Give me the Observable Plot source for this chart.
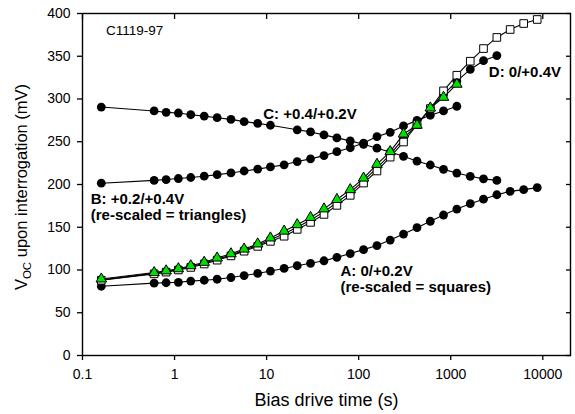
<!DOCTYPE html>
<html><head><meta charset="utf-8">
<script src="https://cdn.jsdelivr.net/npm/d3@7"></script>
<script src="https://cdn.jsdelivr.net/npm/@observablehq/plot@0.6"></script>
<style>body{margin:0;background:#fff}</style>
</head><body><div id="chart"></div>
<script>
// Bias drive time (s)
const times = [0.16, 0.6, 0.81, 1.1, 1.5, 2.1, 2.9, 4.1, 5.7, 8, 11, 15.5, 21.5, 30, 42, 58, 81, 113, 158, 220, 307, 430, 600, 835, 1165, 1630, 2270, 3170, 4420, 6200, 8700];
// Voc (mV)
const seriesA = [81, 84.6, 85.1, 85.6, 87, 88, 89.2, 91.2, 93.5, 96, 98.8, 101.8, 105, 107.8, 110.8, 114.8, 119.2, 123.8, 128.6, 135, 142, 149.5, 157, 164.3, 171.3, 177.6, 182.8, 188, 192, 194, 196.3];
const seriesB = [201.5, 204.8, 205.8, 207, 208.2, 209.7, 211.5, 213.5, 215.8, 218, 220.5, 223, 226.8, 230, 233.8, 238.4, 243, 248.5, 256, 261, 268.5, 275, 281, 286, 291.5];
const seriesC = [290.6, 286, 284.4, 283.6, 281.6, 280, 278.1, 276.2, 273.5, 271.5, 269.3, null, 264, 261.5, 258, 254.5, 251, 247, 242.5, 238, 233, 227.3, 222.8, 217.7, 213.4, 209.6, 206.6, 204.8];
const seriesD = [88.5, 96, 98, 100.5, 104, 108, 112.5, 117.5, 123, 129, 135.5, 142.5, 150, 158.5, 168, 179, 190.5, 204.5, 219.5, 235, 254, 270, 289, 305, 321, 334.6, 344.8, 350.8];
const rescaledA = [88, 95.5, 97.5, 100, 103, 107, 111.5, 116.5, 122, 127.6, 133.5, 139.5, 147.5, 155.7, 165, 175.6, 187.3, 201.7, 215.8, 232, 249.7, 270, 288.8, 309.5, 327.8, 344.2, 359, 372, 381.3, 388.3, 393];
const rescaledB = [89.5, 97, 99, 101.5, 105, 109, 114, 119, 124.5, 130.5, 137.5, 145.5, 153, 161.5, 171.5, 182.5, 194, 207.5, 223.6, 238.5, 259, 269.3, 289.5, 302, 317.3];

const xTicks = [0.1, 1, 10, 100, 1000, 10000];
const yTicks = [0, 50, 100, 150, 200, 250, 300, 350, 400];

const sampleLabel = [{t: 0.18, v: 375, text: "C1119-97"}];
const seriesLabels = [
  {t: 9.2, v: 277.1, text: "C: +0.4/+0.2V"},
  {t: 2595, v: 325.8, text: "D: 0/+0.4V"},
  {t: 0.123, v: 177.6, text: "B: +0.2/+0.4V"},
  {t: 0.123, v: 158.9, text: "(re-scaled = triangles)"},
  {t: 63.5, v: 92.5, text: "A: 0/+0.2V"},
  {t: 63.5, v: 73.8, text: "(re-scaled = squares)"}
];
const xTitle = "Bias drive time (s)";

const rows = vals => vals.map((v, i) => ({t: times[i], v})).filter(d => d.v != null);
const A = rows(seriesA), B = rows(seriesB), C = rows(seriesC), D = rows(seriesD);
const SQ = rows(rescaledA), TR = rows(rescaledB);

const lineOpts = {x: "t", y: "v", stroke: "black", strokeWidth: 1.1};
const dotOpts = {x: "t", y: "v", r: 4.4, fill: "black"};

const chart = Plot.plot({
  width: 575, height: 414,
  marginLeft: 82, marginRight: 5, marginTop: 13, marginBottom: 59,
  x: {type: "log", domain: [0.1, 20000]},
  y: {domain: [0, 400]},
  style: {fontFamily: "Arial, 'Liberation Sans', sans-serif", fontSize: "14px", color: "black", background: "white"},
  marks: [
    Plot.axisX(xTicks, {anchor: "bottom", tickSize: 5, tickPadding: 9, tickFormat: d => String(d), label: null, strokeWidth: 1.3}),
    Plot.axisX(xTicks, {anchor: "top", tickSize: -5, tickFormat: () => "", label: null, strokeWidth: 1.3}),
    Plot.axisY(yTicks, {anchor: "left", tickSize: 5, tickPadding: 7, label: null, strokeWidth: 1.3}),
    Plot.axisY(yTicks, {anchor: "right", tickSize: -5, tickFormat: () => "", label: null, strokeWidth: 1.3}),
    Plot.frame({stroke: "black", strokeWidth: 1.4}),
    Plot.line(A, lineOpts), Plot.dot(A, dotOpts),
    Plot.line(C, lineOpts), Plot.dot(C, dotOpts),
    Plot.line(B, lineOpts), Plot.dot(B, dotOpts),
    Plot.line(D, lineOpts), Plot.dot(D, dotOpts),
    Plot.line(SQ, lineOpts),
    Plot.dot(SQ, {x: "t", y: "v", symbol: "square", r: 4.3, fill: "white", stroke: "black", strokeWidth: 1}),
    Plot.line(TR, lineOpts),
    Plot.dot(TR, {x: "t", y: "v", symbol: "triangle", r: 3.9, fill: "#00e000", stroke: "black", strokeWidth: 1}),
    Plot.text(sampleLabel, {x: "t", y: "v", text: "text", textAnchor: "start", lineAnchor: "bottom", fontSize: 13.5}),
    Plot.text(seriesLabels, {x: "t", y: "v", text: "text", textAnchor: "start", lineAnchor: "bottom", fontSize: 15, fontWeight: "bold"}),
    Plot.text([xTitle], {frameAnchor: "bottom", lineAnchor: "bottom", dy: 50, fontSize: 18})
  ]
});

const svg = d3.select(chart);
const yt = svg.append("text")
  .attr("transform", `translate(27,${(13 + 355) / 2 + 3}) rotate(-90)`)
  .attr("text-anchor", "middle")
  .attr("font-size", 16.5)
  .attr("fill", "black");
yt.append("tspan").text("V");
yt.append("tspan").attr("font-size", 11.5).attr("dy", 4).text("OC");
yt.append("tspan").attr("dy", -4).text(" upon interrogation (mV)");

document.getElementById("chart").appendChild(chart);
</script>
</body></html>
